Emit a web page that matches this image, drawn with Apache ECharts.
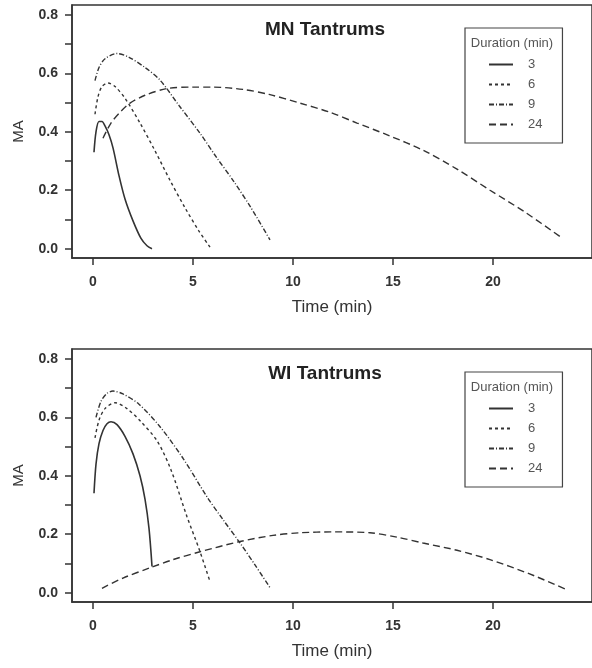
<!DOCTYPE html>
<html>
<head>
<meta charset="utf-8">
<script src="https://cdn.jsdelivr.net/npm/echarts@6/dist/echarts.min.js"></script>
<style>
  html, body { margin: 0; padding: 0; background: #fff; }
  #chart { width: 592px; height: 668px; }
</style>
</head>
<body>
<div id="chart"></div>
<script>
// 图例名称（持续时间，分钟）
const durations = ['3', '6', '9', '24'];
const xTicks = [0, 5, 10, 15, 20];
const yTicks = [0, 0.1, 0.2, 0.3, 0.4, 0.5, 0.6, 0.7, 0.8];
const yLabels = [0, 0.2, 0.4, 0.6, 0.8];

// MN Tantrums
const mn3X = [0.05, 0.15, 0.3, 0.45, 0.6, 0.8, 1.0, 1.3, 1.6, 2.0, 2.4, 2.7, 2.95];
const mn3Y = [0.33, 0.40, 0.435, 0.435, 0.42, 0.39, 0.345, 0.25, 0.17, 0.095, 0.035, 0.01, 0.0];
const mn6X = [0.1, 0.25, 0.45, 0.75, 1.1, 1.6, 2.35, 3.1, 3.85, 4.6, 5.3, 5.85];
const mn6Y = [0.46, 0.52, 0.555, 0.567, 0.555, 0.515, 0.43, 0.335, 0.234, 0.14, 0.06, 0.005];
const mn9X = [0.1, 0.3, 0.6, 1.2, 1.8, 2.6, 3.35, 4.3, 5.35, 6.2, 7.0, 7.9, 8.85];
const mn9Y = [0.575, 0.62, 0.65, 0.668, 0.655, 0.62, 0.577, 0.49, 0.395, 0.31, 0.234, 0.14, 0.03];
const mn24X = [0.5, 0.9, 1.4, 1.85, 2.6, 3.7, 5.0, 6.0, 7.5, 8.8, 10.35, 11.8, 13.2, 14.8, 16.5, 18.2, 19.85, 21.6, 23.5];
const mn24Y = [0.378, 0.43, 0.47, 0.498, 0.525, 0.548, 0.553, 0.553, 0.545, 0.528, 0.498, 0.468, 0.43, 0.387, 0.337, 0.272, 0.2, 0.125, 0.034];

// WI Tantrums
const wi3X = [0.05, 0.15, 0.3, 0.5, 0.7, 0.9, 1.2, 1.6, 2.0, 2.35, 2.6, 2.8, 2.95];
const wi3Y = [0.34, 0.44, 0.51, 0.555, 0.578, 0.585, 0.575, 0.535, 0.475, 0.4, 0.32, 0.22, 0.09];
const wi6X = [0.1, 0.3, 0.6, 1.1, 1.7, 2.4, 3.2, 3.9, 4.7, 5.3, 5.85];
const wi6Y = [0.53, 0.59, 0.63, 0.65, 0.63, 0.585, 0.52, 0.42, 0.26, 0.15, 0.038];
const wi9X = [0.15, 0.4, 0.7, 1.0, 1.5, 2.3, 3.35, 4.5, 5.7, 6.5, 7.35, 8.1, 8.85];
const wi9Y = [0.6, 0.655, 0.682, 0.69, 0.68, 0.645, 0.568, 0.46, 0.328, 0.25, 0.17, 0.095, 0.017];
const wi24X = [0.45, 1.5, 2.85, 4.0, 5.35, 7.35, 9.0, 10.35, 12.0, 13.85, 15.2, 16.5, 18.2, 19.85, 21.8, 23.7];
const wi24Y = [0.015, 0.05, 0.085, 0.113, 0.14, 0.175, 0.196, 0.205, 0.208, 0.205, 0.19, 0.17, 0.145, 0.113, 0.065, 0.01];

const zip = (xs, ys) => xs.map((x, i) => [x, ys[i]]);

// 线型：实线 / 短虚线 / 点划线 / 长虚线
const dashTypes = ['solid', [3, 3], [5, 2, 1, 2], [7, 4]];

const panels = [
  { title: 'MN Tantrums', top: 5, data: [zip(mn3X, mn3Y), zip(mn6X, mn6Y), zip(mn9X, mn9Y), zip(mn24X, mn24Y)] },
  { title: 'WI Tantrums', top: 349, data: [zip(wi3X, wi3Y), zip(wi6X, wi6Y), zip(wi9X, wi9Y), zip(wi24X, wi24Y)] }
];

const axisColor = '#333';
const font = 'Liberation Sans';

const chart = echarts.init(document.getElementById('chart'), null, { renderer: 'canvas' });

const grid = panels.map(p => ({
  left: 72, top: p.top, width: 521, height: 253,
  show: true, borderColor: axisColor, borderWidth: 1.5, backgroundColor: 'transparent'
}));

const xAxis = panels.map((p, i) => ({
  type: 'value', gridIndex: i, min: -1.05, max: 24.95,
  name: 'Time (min)', nameLocation: 'middle', nameGap: 41,
  nameTextStyle: { fontFamily: font, fontSize: 17, color: '#333' },
  axisLine: { show: true, onZero: false, lineStyle: { color: axisColor, width: 1.5 } },
  axisTick: { show: true, length: 7, customValues: xTicks, lineStyle: { color: axisColor, width: 1.5 } },
  axisLabel: { customValues: xTicks, margin: 17, fontFamily: font, fontWeight: 'bold', fontSize: 14, color: '#333' },
  splitLine: { show: false }
}));

const yAxis = panels.map((p, i) => ({
  type: 'value', gridIndex: i, min: -0.032, max: 0.834,
  name: 'MA', nameLocation: 'middle', nameGap: 46,
  nameTextStyle: { fontFamily: font, fontSize: 15, color: '#333' },
  axisLine: { show: true, onZero: false, lineStyle: { color: axisColor, width: 1.5 } },
  axisTick: { show: true, length: 7, customValues: yTicks, lineStyle: { color: axisColor, width: 1.5 } },
  axisLabel: { customValues: yLabels, margin: 14, fontFamily: font, fontWeight: 'bold', fontSize: 14, color: '#333',
    formatter: v => v.toFixed(1) },
  splitLine: { show: false }
}));

const series = [];
panels.forEach((p, i) => {
  p.data.forEach((d, k) => {
    series.push({
      name: durations[k], type: 'line', xAxisIndex: i, yAxisIndex: i,
      data: d, smooth: 0.3, symbol: 'none', showSymbol: false,
      lineStyle: { color: '#333', width: k === 0 ? 1.6 : 1.4, type: dashTypes[k] },
      itemStyle: { color: '#333' },
      emphasis: { disabled: true }, animation: false
    });
  });
});

const legend = panels.map(p => ({
  orient: 'vertical', left: 465, top: p.top + 23,
  data: durations, selectedMode: false,
  itemWidth: 24, itemHeight: 10, itemGap: 7,
  padding: [30, 20, 12, 23],
  borderColor: '#444', borderWidth: 1.2,
  itemStyle: { opacity: 0 },
  textStyle: { fontFamily: font, fontSize: 13, color: '#555', padding: [0, 0, 0, 10] }
}));

const graphic = [];
panels.forEach(p => {
  graphic.push({
    type: 'text', x: 325, y: p.top + 25,
    style: { text: p.title, font: 'bold 19px "Liberation Sans"', fill: '#222', textAlign: 'center', textVerticalAlign: 'middle' }
  });
  graphic.push({
    type: 'text', x: 512, y: p.top + 38,
    style: { text: 'Duration (min)', font: '13px "Liberation Sans"', fill: '#555', textAlign: 'center', textVerticalAlign: 'middle' }
  });
});

chart.setOption({
  animation: false,
  grid: grid,
  xAxis: xAxis,
  yAxis: yAxis,
  legend: legend,
  graphic: graphic,
  series: series
});
</script>
</body>
</html>
